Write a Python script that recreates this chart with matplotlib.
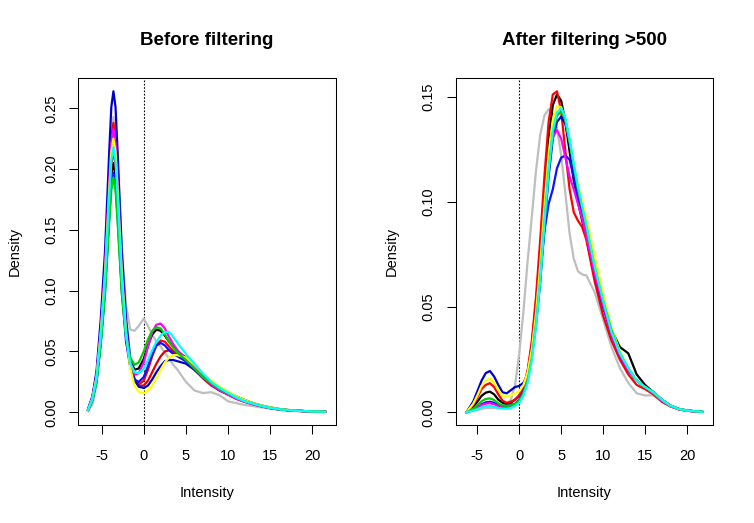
import matplotlib
matplotlib.use('Agg')
import matplotlib.pyplot as plt

plt.rcParams['font.family'] = ['Liberation Sans', 'DejaVu Sans']

# ---- before filtering: density estimates ----
x_before = [-6.6, -6.1, -5.6, -5.1, -4.6, -4.1, -3.85, -3.6, -3.35, -3.1, -2.6, -2.1,
            -1.6, -1.1, -0.6, 0, 0.5, 1, 1.5, 2, 2.5, 3, 3.5, 4, 5, 6, 7, 8, 9, 10,
            11, 12, 13, 14, 15, 16, 17, 18, 19, 20, 21.5]

before_gray = [0.001, 0.006, 0.022, 0.060, 0.112, 0.190, 0.228, 0.243, 0.232, 0.200, 0.135, 0.088,
               0.068, 0.067, 0.071, 0.077, 0.071, 0.064, 0.058, 0.054, 0.049, 0.044, 0.039, 0.035,
               0.025, 0.018, 0.0158, 0.0165, 0.014, 0.009, 0.0075, 0.006, 0.005, 0.004, 0.003,
               0.002, 0.0015, 0.001, 0.0008, 0.0005, 0.0003]
before_black = [0.002, 0.010, 0.027, 0.059, 0.103, 0.166, 0.195, 0.205, 0.195, 0.166, 0.103, 0.062,
                0.043, 0.035, 0.036, 0.044, 0.055, 0.064, 0.068, 0.067, 0.063, 0.058, 0.054, 0.050,
                0.045, 0.038, 0.031, 0.025, 0.020, 0.016, 0.013, 0.010, 0.0075, 0.0055, 0.004,
                0.0028, 0.002, 0.0014, 0.001, 0.0007, 0.0004]
before_red = [0.002, 0.012, 0.031, 0.069, 0.119, 0.193, 0.226, 0.238, 0.226, 0.193, 0.119, 0.069,
              0.040, 0.027, 0.023, 0.026, 0.035, 0.046, 0.055, 0.059, 0.058, 0.054, 0.050, 0.047,
              0.042, 0.035, 0.028, 0.022, 0.018, 0.0145, 0.011, 0.0085, 0.0065, 0.0048, 0.0034,
              0.0024, 0.0017, 0.0012, 0.0009, 0.0006, 0.0004]
before_red2 = [0.002, 0.011, 0.028, 0.062, 0.108, 0.174, 0.204, 0.215, 0.204, 0.174, 0.108, 0.063,
               0.038, 0.026, 0.022, 0.022, 0.026, 0.033, 0.040, 0.046, 0.050, 0.051, 0.050, 0.048,
               0.043, 0.036, 0.029, 0.023, 0.018, 0.015, 0.012, 0.009, 0.007, 0.005, 0.0035,
               0.0025, 0.0018, 0.0013, 0.001, 0.0007, 0.0005]
before_green = [0.002, 0.010, 0.025, 0.056, 0.097, 0.156, 0.183, 0.193, 0.183, 0.156, 0.097, 0.062,
                0.045, 0.039, 0.041, 0.050, 0.060, 0.067, 0.070, 0.069, 0.064, 0.058, 0.053, 0.049,
                0.043, 0.036, 0.029, 0.024, 0.019, 0.0155, 0.012, 0.009, 0.007, 0.005, 0.0035,
                0.0025, 0.0018, 0.0013, 0.001, 0.0007, 0.0004]
before_blue = [0.003, 0.013, 0.034, 0.077, 0.132, 0.214, 0.251, 0.264, 0.251, 0.214, 0.132, 0.077,
               0.044, 0.027, 0.021, 0.020, 0.022, 0.027, 0.033, 0.038, 0.042, 0.043, 0.043, 0.042,
               0.040, 0.035, 0.029, 0.023, 0.018, 0.015, 0.012, 0.009, 0.007, 0.005, 0.0035,
               0.0025, 0.0018, 0.0013, 0.001, 0.0007, 0.0004]
before_navy = [0.002, 0.010, 0.026, 0.057, 0.099, 0.160, 0.187, 0.197, 0.187, 0.160, 0.099, 0.058,
               0.037, 0.027, 0.025, 0.029, 0.038, 0.048, 0.055, 0.057, 0.055, 0.051, 0.048, 0.046,
               0.042, 0.036, 0.029, 0.023, 0.018, 0.015, 0.012, 0.009, 0.007, 0.005, 0.0035,
               0.0025, 0.0018, 0.0013, 0.001, 0.0007, 0.0004]
before_magenta = [0.002, 0.012, 0.030, 0.068, 0.117, 0.189, 0.221, 0.233, 0.221, 0.189, 0.117, 0.068,
                  0.041, 0.031, 0.032, 0.041, 0.054, 0.066, 0.072, 0.073, 0.069, 0.062, 0.056, 0.051,
                  0.044, 0.037, 0.029, 0.023, 0.018, 0.0145, 0.011, 0.0085, 0.0065, 0.0048, 0.0034,
                  0.0024, 0.0017, 0.0012, 0.0009, 0.0006, 0.0004]
before_yellow = [0.002, 0.011, 0.029, 0.065, 0.113, 0.182, 0.214, 0.225, 0.214, 0.182, 0.113, 0.065,
                 0.036, 0.022, 0.017, 0.0155, 0.018, 0.022, 0.028, 0.035, 0.041, 0.045, 0.047, 0.047,
                 0.045, 0.039, 0.032, 0.026, 0.021, 0.017, 0.013, 0.010, 0.0075, 0.0055, 0.004,
                 0.0028, 0.002, 0.0014, 0.001, 0.0007, 0.0004]
before_cyan = [0.002, 0.011, 0.028, 0.063, 0.109, 0.177, 0.207, 0.218, 0.207, 0.177, 0.109, 0.063,
               0.040, 0.033, 0.032, 0.036, 0.043, 0.051, 0.058, 0.063, 0.066, 0.066, 0.062, 0.057,
               0.048, 0.040, 0.032, 0.025, 0.020, 0.016, 0.012, 0.009, 0.007, 0.005, 0.0035,
               0.0025, 0.0018, 0.0013, 0.001, 0.0007, 0.0004]

# ---- after filtering >500 ----
x_after = [-6.3, -5.5, -5, -4.5, -4, -3.5, -3, -2.5, -2, -1.5, -1, -0.5, 0, 0.5, 1, 1.5, 2,
           2.5, 3, 3.5, 4, 4.5, 5, 5.5, 6, 6.5, 7, 7.5, 8, 9, 10, 11, 12, 13, 14, 15, 16,
           17, 18, 19, 20, 21.8]

after_gray = [0, 0.0005, 0.001, 0.0015, 0.002, 0.002, 0.002, 0.002, 0.003, 0.004, 0.006, 0.013,
              0.028, 0.048, 0.072, 0.093, 0.115, 0.132, 0.141, 0.144, 0.142, 0.135, 0.122, 0.104,
              0.085, 0.073, 0.067, 0.0655, 0.065, 0.057, 0.044, 0.031, 0.021, 0.014, 0.009, 0.008,
              0.008, 0.0055, 0.003, 0.0015, 0.0006, 0.0001]
after_black = [0, 0.0025, 0.005, 0.0078, 0.0093, 0.0098, 0.0085, 0.006, 0.0045, 0.004, 0.0045, 0.006,
               0.008, 0.012, 0.019, 0.032, 0.052, 0.077, 0.105, 0.130, 0.146, 0.151, 0.148, 0.138,
               0.124, 0.110, 0.100, 0.091, 0.083, 0.064, 0.050, 0.039, 0.031, 0.028, 0.018, 0.013,
               0.0095, 0.006, 0.0032, 0.0016, 0.0008, 0.0002]
after_red = [0, 0.0035, 0.007, 0.011, 0.013, 0.0138, 0.012, 0.0085, 0.0055, 0.0045, 0.005, 0.006,
             0.008, 0.012, 0.020, 0.034, 0.055, 0.082, 0.112, 0.138, 0.151, 0.1525, 0.143, 0.124,
             0.106, 0.095, 0.091, 0.088, 0.082, 0.062, 0.046, 0.034, 0.025, 0.018, 0.013, 0.011,
             0.0085, 0.005, 0.0028, 0.0014, 0.0007, 0.0002]
after_blue = [0, 0.005, 0.010, 0.015, 0.0186, 0.0196, 0.017, 0.013, 0.0095, 0.009, 0.0105, 0.012,
              0.0125, 0.014, 0.018, 0.027, 0.042, 0.062, 0.088, 0.112, 0.130, 0.138, 0.1405, 0.137,
              0.127, 0.114, 0.103, 0.094, 0.086, 0.067, 0.051, 0.037, 0.027, 0.020, 0.015, 0.012,
              0.0095, 0.006, 0.0032, 0.0016, 0.0008, 0.0002]
after_navy = [0, 0.0012, 0.0025, 0.0038, 0.0047, 0.005, 0.0045, 0.0035, 0.003, 0.003, 0.0035, 0.004,
              0.006, 0.010, 0.017, 0.028, 0.045, 0.066, 0.086, 0.099, 0.106, 0.116, 0.121, 0.122,
              0.120, 0.112, 0.102, 0.093, 0.085, 0.066, 0.050, 0.037, 0.027, 0.020, 0.015, 0.012,
              0.0095, 0.006, 0.0032, 0.0016, 0.0008, 0.0002]
after_green = [0, 0.0016, 0.0033, 0.0052, 0.0063, 0.0066, 0.0058, 0.0042, 0.0032, 0.003, 0.0033, 0.004,
               0.0055, 0.009, 0.015, 0.026, 0.042, 0.063, 0.090, 0.115, 0.133, 0.141, 0.143, 0.139,
               0.129, 0.117, 0.106, 0.097, 0.088, 0.069, 0.053, 0.039, 0.028, 0.021, 0.015, 0.012,
               0.0095, 0.006, 0.0032, 0.0016, 0.0008, 0.0002]
after_magenta = [0, 0.001, 0.0021, 0.0034, 0.0041, 0.0043, 0.0038, 0.0028, 0.0022, 0.002, 0.0025, 0.0035,
                 0.0055, 0.009, 0.016, 0.028, 0.046, 0.070, 0.097, 0.119, 0.131, 0.134, 0.130, 0.121,
                 0.112, 0.106, 0.099, 0.092, 0.084, 0.066, 0.051, 0.037, 0.027, 0.020, 0.015, 0.012,
                 0.009, 0.0055, 0.003, 0.0015, 0.0007, 0.0002]
after_yellow = [0, 0.004, 0.008, 0.0125, 0.015, 0.016, 0.014, 0.0105, 0.008, 0.0075, 0.008, 0.009,
                0.010, 0.013, 0.019, 0.030, 0.047, 0.070, 0.098, 0.123, 0.139, 0.1455, 0.145, 0.139,
                0.129, 0.118, 0.108, 0.100, 0.092, 0.074, 0.056, 0.040, 0.029, 0.021, 0.015, 0.012,
                0.0095, 0.006, 0.0032, 0.0016, 0.0008, 0.0002]
after_cyan = [0, 0.0008, 0.0015, 0.0024, 0.0029, 0.003, 0.0027, 0.002, 0.0017, 0.0017, 0.002, 0.003,
              0.0045, 0.008, 0.014, 0.025, 0.041, 0.063, 0.090, 0.115, 0.134, 0.1425, 0.1445, 0.140,
              0.130, 0.118, 0.107, 0.098, 0.089, 0.069, 0.053, 0.038, 0.028, 0.021, 0.015, 0.012,
              0.0095, 0.006, 0.0032, 0.0016, 0.0008, 0.0002]

colors = {'gray': '#BEBEBE', 'black': '#000000', 'red': '#FF0000', 'red2': '#DD0000',
          'green': '#00CD00', 'blue': '#0000CD', 'navy': '#1010FF', 'magenta': '#FF00FF',
          'yellow': '#FFFF00', 'cyan': '#00FFFF'}

before = [('gray', before_gray), ('black', before_black), ('red', before_red),
          ('red2', before_red2), ('blue', before_blue), ('navy', before_navy),
          ('magenta', before_magenta), ('yellow', before_yellow), ('green', before_green),
          ('cyan', before_cyan)]
after = [('gray', after_gray), ('black', after_black), ('red', after_red),
         ('blue', after_blue), ('navy', after_navy), ('magenta', after_magenta),
         ('yellow', after_yellow), ('green', after_green), ('cyan', after_cyan)]

fig = plt.figure(figsize=(7.54, 5.23), dpi=100)
ax1 = fig.add_axes([0.1038, 0.188, 0.3418, 0.6623])
ax2 = fig.add_axes([0.6044, 0.188, 0.3416, 0.6623])


def style(ax, xlim, ylim, yticks):
    ax.set_xlim(*xlim)
    ax.set_ylim(*ylim)
    ax.set_xticks([-5, 0, 5, 10, 15, 20])
    ax.set_xticklabels(['-5', '0', '5', '10', '15', '20'])
    ax.set_yticks(yticks)
    ax.set_yticklabels(['%.2f' % t for t in yticks], rotation=90, va='center')
    ax.tick_params(direction='out', length=6.3, width=0.75, labelsize=10.5, color='black')
    ax.tick_params(axis='x', pad=11)
    ax.tick_params(axis='y', pad=8)
    for s in ax.spines.values():
        s.set_linewidth(0.75)
    ax.axvline(0, color='black', lw=0.8, linestyle=(0, (1.5, 1.5)), zorder=1)


for name, ys in before:
    ax1.plot(x_before, ys, color=colors[name], lw=1.6, solid_joinstyle='round', zorder=2)
for name, ys in after:
    ax2.plot(x_after, ys, color=colors[name], lw=1.6, solid_joinstyle='round', zorder=2)

style(ax1, (-7.77, 22.8), (-0.0102, 0.2747), [0, 0.05, 0.10, 0.15, 0.20, 0.25])
style(ax2, (-7.58, 23.14), (-0.0059, 0.1587), [0, 0.05, 0.10, 0.15])

fig.text(0.2745, 0.922, 'Before filtering', ha='center', va='center', fontsize=13.5, fontweight='bold')
fig.text(0.7752, 0.922, 'After filtering >500', ha='center', va='center', fontsize=13.5, fontweight='bold')
fig.text(0.2745, 0.057, 'Intensity', ha='center', va='center', fontsize=10.5)
fig.text(0.7752, 0.057, 'Intensity', ha='center', va='center', fontsize=10.5)
fig.text(0.02, 0.519, 'Density', ha='center', va='center', rotation=90, fontsize=10.5)
fig.text(0.519, 0.519, 'Density', ha='center', va='center', rotation=90, fontsize=10.5)

fig.savefig('out.png', dpi=100)
